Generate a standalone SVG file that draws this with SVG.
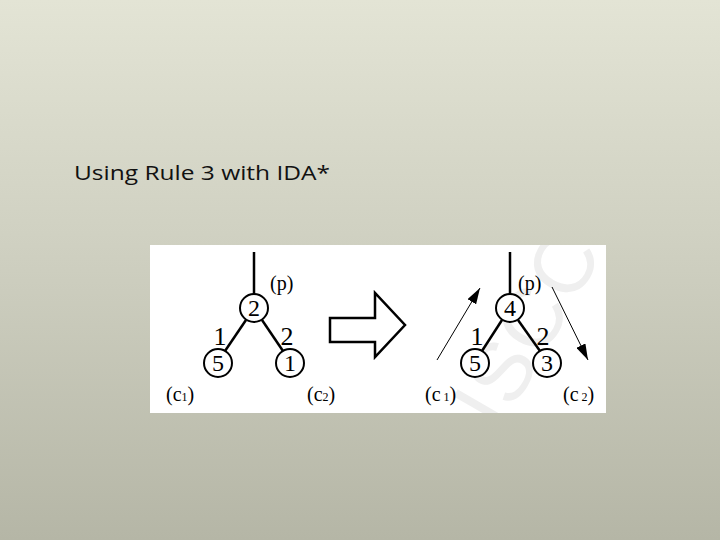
<svg xmlns="http://www.w3.org/2000/svg" width="720" height="540" viewBox="0 0 720 540">
<defs>
<linearGradient id="bg" x1="0" y1="0" x2="0" y2="1">
<stop offset="0" stop-color="#e3e4d5"/>
<stop offset="0.5" stop-color="#cdcebf"/>
<stop offset="1" stop-color="#b5b6a6"/>
</linearGradient>
<clipPath id="box"><rect x="150" y="245" width="456" height="168"/></clipPath>
<marker id="ah2" viewBox="0 0 16 10" refX="16" refY="5" markerWidth="16" markerHeight="10" markerUnits="userSpaceOnUse" orient="auto">
<path d="M0,0 L16,5 L0,10 Z" fill="#000"/>
</marker>
</defs>
<style>
.n{fill:#fff;stroke:#000;stroke-width:2}
.e{stroke:#000;stroke-width:2.5;fill:none}
.t{font-family:"Liberation Serif","Times New Roman",serif;fill:#000}
.d{font-size:24px;text-anchor:middle}
.el{font-size:26px;text-anchor:middle}
.l{font-size:20px}
.s{font-size:12px}
.thin{stroke:#000;stroke-width:1;fill:none}
</style>
<rect width="720" height="540" fill="url(#bg)"/>
<text x="74" y="180" font-family="'Open Sans','Liberation Sans',sans-serif" font-size="20" fill="#111" textLength="256" lengthAdjust="spacingAndGlyphs">Using Rule 3 with IDA*</text>
<rect x="150" y="245" width="456" height="168" fill="#fff"/>
<g clip-path="url(#box)">
<text x="0" y="0" transform="translate(500,432) rotate(-60)" font-family="'Liberation Sans',sans-serif" font-size="84" fill="#efefef" letter-spacing="2">ISCC</text>
</g>
<g id="connectors">
<line class="e" x1="254" y1="252" x2="254" y2="294"/>
<line class="e" x1="246" y1="320" x2="225" y2="351"/>
<line class="e" x1="262" y1="320" x2="283" y2="351"/>
<line class="e" x1="510" y1="252" x2="510" y2="294"/>
<line class="e" x1="502" y1="320" x2="482" y2="351"/>
<line class="e" x1="518" y1="320" x2="540" y2="351"/>
<line class="thin" x1="437" y1="360" x2="480" y2="288" marker-end="url(#ah2)"/>
<line class="thin" x1="552" y1="287" x2="588" y2="360" marker-end="url(#ah2)"/>
</g>
<g id="bigarrow">
<path d="M330,318 L375,318 L375,293 L405,325 L375,357 L375,342 L330,342 Z" fill="#fff" stroke="#000" stroke-width="2.5" stroke-linejoin="miter"/>
</g>
<g id="left-p"><circle class="n" cx="254" cy="308" r="14"/><text class="t d" x="254" y="316">2</text></g>
<g id="left-c1"><circle class="n" cx="218" cy="363" r="14"/><text class="t d" x="218" y="371">5</text></g>
<g id="left-c2"><circle class="n" cx="290" cy="363" r="14"/><text class="t d" x="290" y="371">1</text></g>
<g id="right-p"><circle class="n" cx="510" cy="308" r="14"/><text class="t d" x="510" y="316">4</text></g>
<g id="right-c1"><circle class="n" cx="475" cy="363" r="14"/><text class="t d" x="475" y="371">5</text></g>
<g id="right-c2"><circle class="n" cx="547" cy="363" r="14"/><text class="t d" x="547" y="371">3</text></g>
<g id="labels">
<text class="t el" x="220" y="345">1</text>
<text class="t el" x="287" y="345">2</text>
<text class="t el" x="477" y="345">1</text>
<text class="t el" x="543" y="345">2</text>
<text class="t l" x="270" y="290">(p)</text>
<text class="t l" x="518" y="290">(p)</text>
<text class="t l" x="166" y="401">(c<tspan class="s">1</tspan>)</text>
<text class="t l" x="307" y="401">(c<tspan class="s">2</tspan>)</text>
<text class="t l" x="425" y="401">(c<tspan class="s"> 1</tspan>)</text>
<text class="t l" x="563" y="401">(c<tspan class="s"> 2</tspan>)</text>
</g>
</svg>
